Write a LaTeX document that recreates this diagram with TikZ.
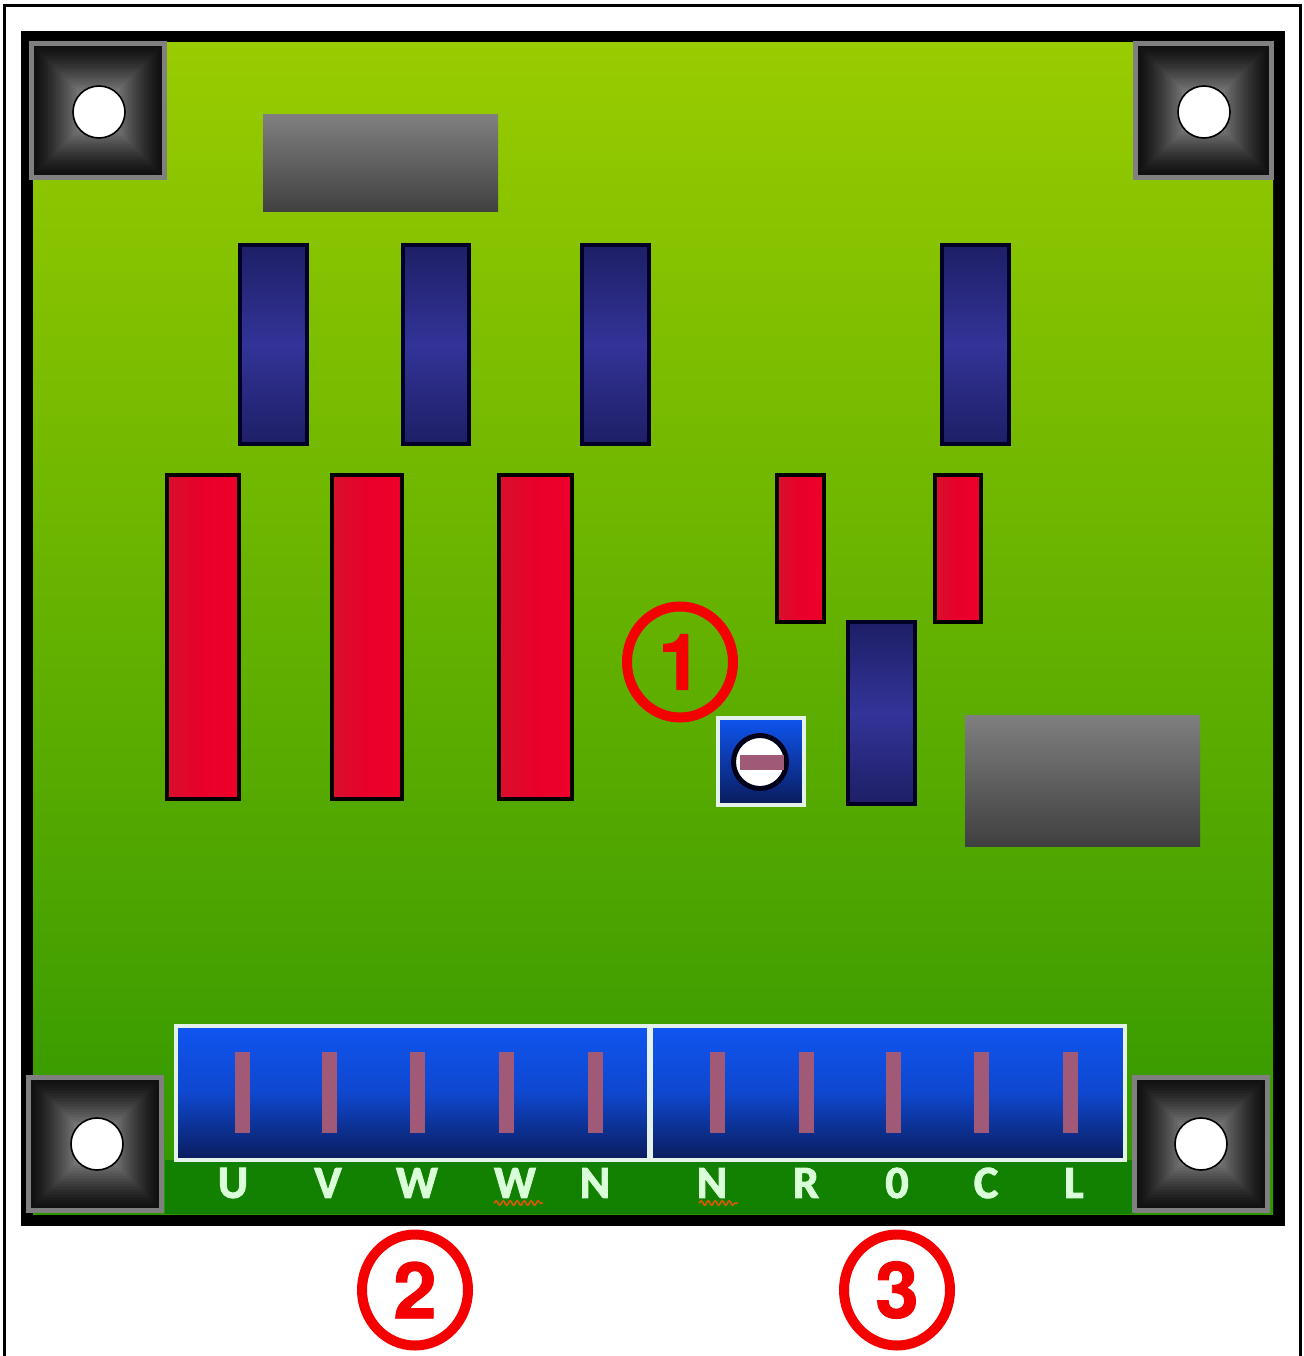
\documentclass[tikz,border=0pt]{standalone}
\usepackage{fontspec}
\setmainfont{Liberation Sans}
\newfontfamily\lblfont{Carlito}[BoldFont={Carlito Bold},BoldFeatures={FakeBold=2.2}]
\newfontfamily\numfont{TeX Gyre Heros}[BoldFont={TeX Gyre Heros Bold},BoldFeatures={FakeBold=1.2}]
\usetikzlibrary{decorations.pathmorphing,shapes.geometric}
\definecolor{boardtop}{HTML}{99CC00}
\definecolor{boardbot}{HTML}{2F9600}
\definecolor{band}{HTML}{128000}
\definecolor{pincol}{HTML}{A05A78}
\definecolor{edgewhite}{HTML}{E4F2EA}
\definecolor{markred}{HTML}{F40000}
\definecolor{redl}{HTML}{D8102C}
\definecolor{redm}{HTML}{E8002A}
\definecolor{redr}{HTML}{EE002A}
\definecolor{navytop}{HTML}{1E1F66}
\definecolor{navymid}{HTML}{333399}
\definecolor{termtop}{HTML}{0F55F0}
\definecolor{termmid}{HTML}{0F47CE}
\definecolor{termbot}{HTML}{0A1C5C}
\definecolor{greyedge}{HTML}{808080}
\definecolor{blockdark}{HTML}{111111}
\definecolor{blocklight}{HTML}{7C7C7C}
\tikzset{
  redbar/.style={draw=black,line width=3.5pt,left color=redl,right color=redr,middle color=redm},
  navybar/.style={draw=black!85!blue,line width=4pt,top color=navytop,bottom color=navytop,middle color=navymid},
  greybox/.style={top color=black!50,bottom color=black!75},
  terminalbox/.style={draw=edgewhite,line width=4.5pt,top color=termtop,bottom color=termbot,middle color=termmid},
  pinbar/.style={fill=pincol},
  termlabel/.style={text=white!85!green,inner sep=0pt},
  callout/.style={draw=markred,line width=10pt,ellipse,minimum width=106pt,minimum height=111pt,inner sep=0pt,outer sep=0pt,text=markred},
  wavy/.style={draw=orange!75!red!90!black,line width=1.5pt,decorate,decoration={snake,amplitude=2.2pt,segment length=7pt}}
}
\newcommand{\lbl}[1]{{\lblfont\bfseries\fontsize{46}{46}\selectfont #1}}
\newcommand{\num}[1]{{\numfont\bfseries\fontsize{78}{78}\selectfont #1}}
\newcommand{\cornerblock}[6]{%
  \fill[greyedge] (#1,#2) rectangle (#3,#4);
  \foreach \i in {0,...,40}{%
    \pgfmathsetmacro{\tval}{\i/40}
    \pgfmathsetmacro{\pct}{min(100,100*(\tval/0.72)^1.3)}
    \pgfmathsetmacro{\ax}{#1+5+\tval*(#3-#1-10)/2}
    \pgfmathsetmacro{\ay}{#2+5+\tval*(#4-#2-10)/2}
    \pgfmathsetmacro{\bx}{#3-5-\tval*(#3-#1-10)/2}
    \pgfmathsetmacro{\by}{#4-5-\tval*(#4-#2-10)/2}
    \fill[blocklight!\pct!blockdark] (\ax,\ay) rectangle (\bx,\by);
  }
  \draw[draw=black,fill=white,line width=1.6pt] (#5,#6) circle (26);
}
\begin{document}
\begin{tikzpicture}[x=1pt,y=-1pt]
\useasboundingbox (0,0) rectangle (1303,1356);
\fill[white] (0,0) rectangle (1303,1356);
% page frame
\draw[black,line width=3pt] (4,1360) -- (4,6) -- (1300,6) -- (1300,1360);
% board
\fill[black] (21,31) rectangle (1285,1226);
\shade[top color=boardtop,bottom color=boardbot] (33,43) rectangle (1273,1214);
\fill[band] (165,1160) rectangle (1135,1214);
% grey parts
\shade[greybox] (263,115) rectangle (498,212);
\shade[greybox] (965,715) rectangle (1200,846);
% navy parts
\path[navybar] (240,245) rectangle (307,444);
\path[navybar] (403,245) rectangle (469,444);
\path[navybar] (582,245) rectangle (649,444);
\path[navybar] (942,245) rectangle (1009,444);
\path[navybar] (848,622) rectangle (915,804);
% red parts
\path[redbar] (167,475) rectangle (239,799);
\path[redbar] (332,475) rectangle (402,799);
\path[redbar] (499,475) rectangle (572,799);
\path[redbar] (777,475) rectangle (824,622);
\path[redbar] (935,475) rectangle (981,622);
% trimmer
\path[draw=edgewhite,line width=4pt,top color=termtop,bottom color=termbot] (718,718) rectangle (804,805);
\draw[draw=black!90!blue,fill=white,line width=5pt] (760,762) circle (26.5);
\fill[pinbar] (740,755) rectangle (784,770);
% terminal blocks
\path[terminalbox] (176,1026) rectangle (650,1160);
\path[terminalbox] (650,1026) rectangle (1125,1160);
\draw[edgewhite,line width=6pt] (650,1026) -- (650,1160);
\foreach \x in {242,329,417,506,595,717,806,893,981,1070}
  \fill[pinbar] (\x-7.5,1052) rectangle (\x+7.5,1133);
% corners
\cornerblock{29}{41}{167}{180}{99}{112}
\cornerblock{1133}{41}{1274}{180}{1204}{112}
\cornerblock{26}{1075}{164}{1213}{97}{1144}
\cornerblock{1132}{1075}{1270}{1213}{1201}{1144}
% terminal labels
\node[termlabel] (tU) at (233,1183) {\lbl{U}};
\node[termlabel] (tV) at (328,1183) {\lbl{V}};
\node[termlabel] (tW) at (417,1183) {\lbl{W}};
\node[termlabel] (tWb) at (515,1183) {\lbl{W}};
\node[termlabel] (tN) at (595,1183) {\lbl{N}};
\node[termlabel] (tNb) at (712,1183) {\lbl{N}};
\node[termlabel] (tR) at (806,1183) {\lbl{R}};
\node[termlabel] (tO) at (897,1183) {\lbl{0}};
\node[termlabel] (tC) at (986,1183) {\lbl{C}};
\node[termlabel] (tL) at (1074,1183) {\lbl{L}};
\coordinate (wa) at (494,1203);
\coordinate (wb) at (543,1203);
\coordinate (wc) at (699,1203);
\coordinate (wd) at (738,1203);
\draw[wavy] (wa) -- (wb);
\draw[wavy] (wc) -- (wd);
% callouts
\node[callout] (one) at (680,662) {\num{1}};
\node[callout] (two) at (415,1290) {\num{2}};
\node[callout] (three) at (897,1290) {\num{3}};
\end{tikzpicture}
\end{document}
